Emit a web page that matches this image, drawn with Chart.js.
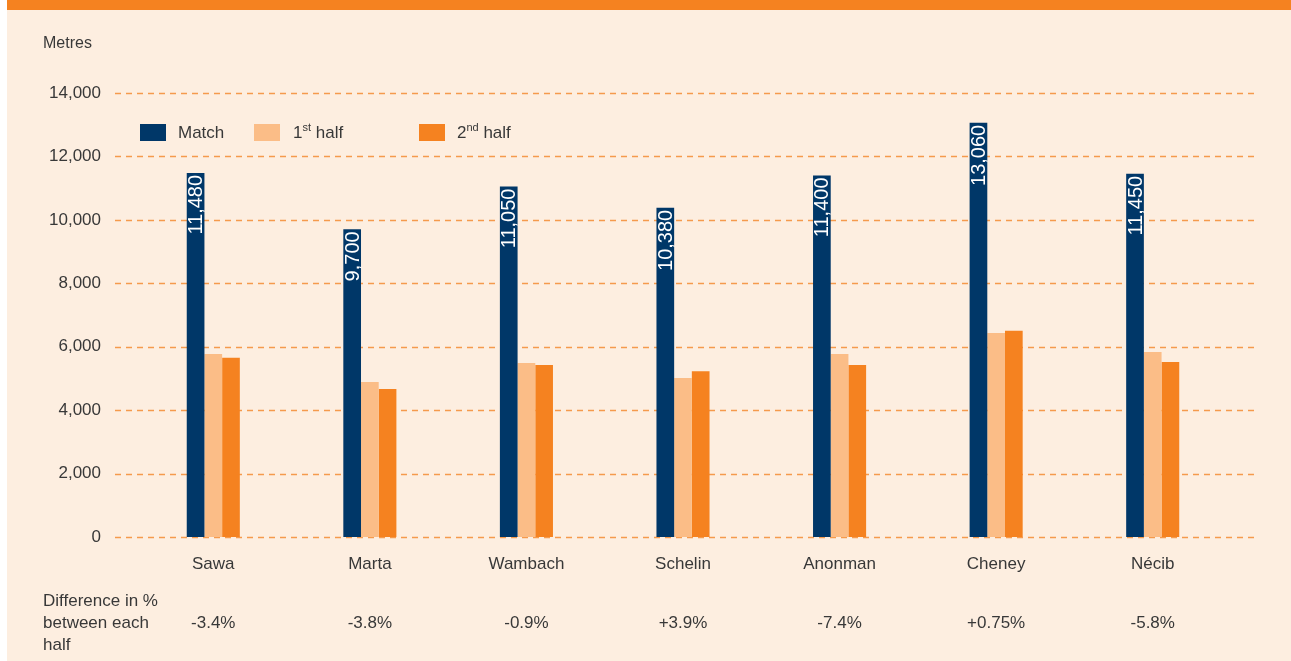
<!DOCTYPE html>
<html>
<head>
<meta charset="utf-8">
<script src="https://cdn.jsdelivr.net/npm/chart.js@4/dist/chart.umd.min.js"></script>
<style>
    html, body { margin: 0; padding: 0; background: #ffffff; }
    #wrap { position: relative; width: 1291px; height: 661px; overflow: hidden; }
    #panel { position: absolute; left: 7px; top: 0; width: 1284px; height: 661px; background: #fdeee0; }
    #band { position: absolute; left: 7px; top: 0; width: 1284px; height: 10px; background: #f58220; }
    canvas { position: absolute; left: 0; top: 0; }
</style>
</head>
<body>
<div id="wrap">
    <div id="panel"></div>
    <div id="band"></div>
    <canvas id="distanceChart" width="1291" height="661"></canvas>
</div>
<script>
const players = ["Sawa", "Marta", "Wambach", "Schelin", "Anonman", "Cheney", "Nécib"];
const matchMetres = [11480, 9700, 11050, 10380, 11400, 13060, 11450];
const firstHalf = [5770, 4890, 5490, 5010, 5770, 6430, 5830];
const secondHalf = [5650, 4670, 5420, 5230, 5420, 6500, 5520];
const halfDiff = ["-3.4%", "-3.8%", "-0.9%", "+3.9%", "-7.4%", "+0.75%", "-5.8%"];
const yTicks = [0, 2000, 4000, 6000, 8000, 10000, 12000, 14000];

const FONT = "'Liberation Sans', Arial, sans-serif";
const TEXT = "#383838";

// dashed grid that runs a bit past the plot area, like the original
const gridPlugin = {
    id: "dashedGrid",
    beforeDatasetsDraw(chart) {
        const ctx = chart.ctx;
        const y = chart.scales.y;
        ctx.save();
        ctx.strokeStyle = "#f59a4c";
        ctx.lineWidth = 1.5;
        ctx.setLineDash([6, 5]);
        yTicks.forEach(v => {
            const py = Math.round(y.getPixelForValue(v)) + 0.5;
            ctx.beginPath();
            ctx.moveTo(115, py);
            ctx.lineTo(1256, py);
            ctx.stroke();
        });
        ctx.restore();
    }
};

const labelPlugin = {
    id: "extras",
    afterDatasetsDraw(chart) {
        const ctx = chart.ctx;
        const x = chart.scales.x;

        // rotated values inside the match bars
        const meta = chart.getDatasetMeta(0);
        ctx.save();
        ctx.fillStyle = "#ffffff";
        ctx.font = "20px " + FONT;
        ctx.textAlign = "right";
        ctx.textBaseline = "middle";
        meta.data.forEach((bar, i) => {
            ctx.save();
            ctx.translate(bar.x + 1, bar.y + 2);
            ctx.rotate(-Math.PI / 2);
            ctx.fillText(matchMetres[i].toLocaleString("en-US"), 0, 0);
            ctx.restore();
        });
        ctx.restore();

        // unit label
        ctx.save();
        ctx.fillStyle = TEXT;
        ctx.font = "16px " + FONT;
        ctx.textBaseline = "middle";
        ctx.textAlign = "left";
        ctx.fillText("Metres", 43, 44);

        // difference row
        ctx.font = "17px " + FONT;
        ctx.fillText("Difference in %", 43, 601);
        ctx.fillText("between each", 43, 623);
        ctx.fillText("half", 43, 645);
        ctx.textAlign = "center";
        halfDiff.forEach((d, i) => {
            ctx.fillText(d, x.getPixelForValue(i), 623);
        });
        ctx.restore();

        // legend
        const items = [
            { box: 140, text: 178, main: "Match", sup: "", rest: "" },
            { box: 254, text: 293, main: "1", sup: "st", rest: " half" },
            { box: 419, text: 457, main: "2", sup: "nd", rest: " half" }
        ];
        ctx.save();
        ctx.textBaseline = "middle";
        ctx.textAlign = "left";
        items.forEach((it, i) => {
            ctx.fillStyle = chart.data.datasets[i].backgroundColor;
            ctx.fillRect(it.box, 124, 26, 17);
            ctx.fillStyle = TEXT;
            ctx.font = "17px " + FONT;
            let px = it.text;
            ctx.fillText(it.main, px, 133);
            px += ctx.measureText(it.main).width;
            if (it.sup) {
                ctx.font = "11px " + FONT;
                ctx.fillText(it.sup, px, 128);
                px += ctx.measureText(it.sup).width;
                ctx.font = "17px " + FONT;
                ctx.fillText(it.rest, px, 133);
            }
        });
        ctx.restore();
    }
};

new Chart(document.getElementById("distanceChart"), {
    type: "bar",
    data: {
        labels: players,
        datasets: [
            { label: "Match", data: matchMetres, backgroundColor: "#003768" },
            { label: "1st half", data: firstHalf, backgroundColor: "#fbbd87" },
            { label: "2nd half", data: secondHalf, backgroundColor: "#f58220" }
        ]
    },
    options: {
        responsive: false,
        animation: false,
        layout: { padding: { top: 93, right: 60, left: 0, bottom: 0 } },
        datasets: {
            bar: { categoryPercentage: 0.339, barPercentage: 1.0 }
        },
        plugins: {
            legend: { display: false },
            tooltip: { enabled: false }
        },
        scales: {
            x: {
                grid: { display: false, drawTicks: false },
                border: { display: false },
                ticks: { color: TEXT, font: { family: FONT, size: 17 }, padding: 17, maxRotation: 0 },
                afterFit: s => { s.height = 124; }
            },
            y: {
                min: 0,
                max: 14000,
                grid: { display: false, drawTicks: false },
                border: { display: false },
                ticks: {
                    stepSize: 2000,
                    padding: 34,
                    color: TEXT,
                    font: { family: FONT, size: 17 },
                    callback: v => v.toLocaleString("en-US")
                },
                afterFit: s => { s.width = 135; }
            }
        }
    },
    plugins: [gridPlugin, labelPlugin]
});
</script>
</body>
</html>
